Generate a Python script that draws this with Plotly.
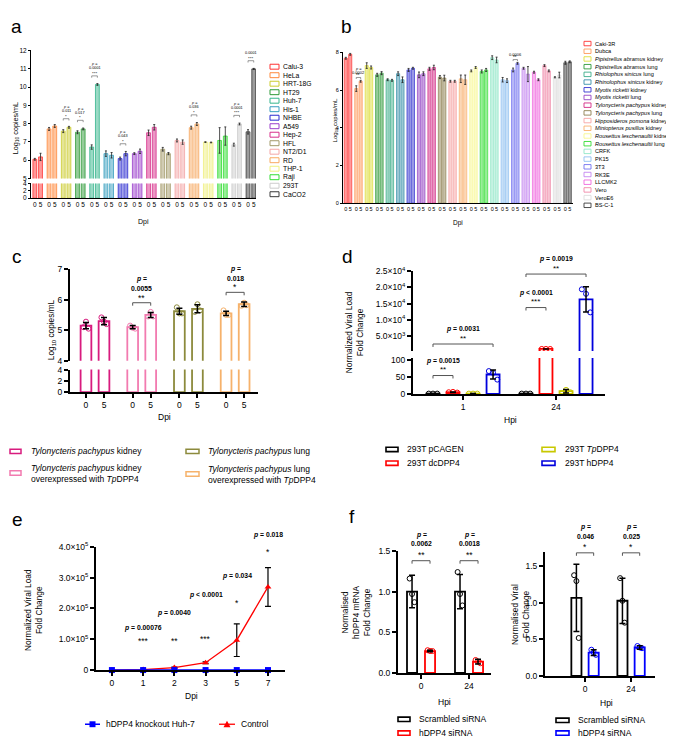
import plotly.graph_objects as go

W, H = 674, 737
FONT = "Arial, Liberation Sans, Helvetica, sans-serif"

# ---------------- Panel a data ----------------
a_cells = ["Calu-3", "HeLa", "HRT-18G", "HT29", "Huh-7", "His-1", "NHBE", "A549",
           "Hep-2", "HFL", "NT2/D1", "RD", "THP-1", "Raji", "293T", "CaCO2"]
a_colors = ["#ff3333", "#ff8a3d", "#cccc2e", "#2e9a38", "#35b58c", "#3a9fbf", "#2b2bd0", "#9b3fcc",
            "#d8308c", "#a39a6a", "#f4a6a6", "#f8aa62", "#f0f080", "#33dd33", "#cccccc", "#3a3a3a"]
a_day0 = [6.05, 7.71, 7.59, 7.53, 6.72, 6.36, 6.09, 6.36, 7.5, 6.6, 7.08, 7.78, 6.99, 7.08, 6.85, 7.55]
a_day5 = [6.18, 7.87, 7.8, 7.71, 10.14, 6.27, 6.36, 6.49, 7.8, 6.36, 6.99, 7.98, 6.97, 7.32, 7.98, 10.99]
a_err0 = [0.05, 0.08, 0.08, 0.08, 0.12, 0.15, 0.08, 0.05, 0.15, 0.1, 0.08, 0.08, 0.02, 0.7, 0.08, 0.12]
a_err5 = [0.2, 0.08, 0.05, 0.05, 0.05, 0.15, 0.12, 0.12, 0.15, 0.06, 0.12, 0.08, 0.02, 0.5, 0.05, 0.03]
a_sig_idx = [2, 3, 4, 6, 11, 14, 15]
a_sig_p = ["0.011", "0.017", "0.0001", "0.043", "0.036", "0.0001", "0.0001"]
a_sig_star = ["*", "*", "***", "*", "*", "***", "***"]
dpi_ticks = ["0", "5"]

# ---------------- Panel b data ----------------
b_cells = ["Caki-3R", "Dubca", "<i>Pipistrellus abramus</i> kidney", "<i>Pipistrellus abramus</i> lung",
           "<i>Rhiolophus sinicus</i> lung", "<i>Rhinolophus sinicus</i> kidney",
           "<i>Myotis ricketti</i> kidney", "<i>Myotis ricketti</i> lung",
           "<i>Tylonycteris pachypus</i> kidney", "<i>Tylonycteris pachypus</i> lung",
           "<i>Hipposideros pomona</i> kidney", "<i>Miniopterus pusillus</i> kidney",
           "<i>Rousettus leschenaultii</i> kidney", "<i>Rousettus leschenaultii</i> lung",
           "CRFK", "PK15", "3T3", "RK3E", "LLCMK2", "Vero", "VeroE6", "BS-C-1"]
b_colors = ["#ff3333", "#ff9a5a", "#dede3c", "#2e9a38", "#3cae8a", "#3890aa", "#3434d0", "#9444c4",
            "#d42a86", "#8e8050", "#f7a4a4", "#f8b070", "#f8f890", "#33dd33", "#8ee6c6", "#8ec0f0",
            "#7272f0", "#c486f0", "#f068de", "#f088a8", "#dddddd", "#3a3a3a"]
b_day0 = [7.69, 6.08, 7.3, 6.81, 6.55, 6.87, 7.07, 6.81, 7.13, 6.69, 6.47, 6.6, 7.02, 6.99, 7.72,
          6.55, 7.07, 7.16, 6.95, 7.3, 6.68, 7.45]
b_day5 = [7.9, 6.47, 7.2, 6.9, 6.52, 6.55, 7.16, 6.87, 7.2, 6.64, 6.47, 6.55, 7.2, 7.07, 7.6,
          6.5, 7.42, 6.85, 6.55, 7.02, 6.8, 7.5]
b_err0 = [0.05, 0.15, 0.15, 0.08, 0.05, 0.1, 0.08, 0.15, 0.08, 0.08, 0.05, 0.2, 0.05, 0.08, 0.1,
          0.12, 0.1, 0.05, 0.05, 0.05, 0.03, 0.08]
b_err5 = [0.05, 0.05, 0.08, 0.08, 0.05, 0.15, 0.05, 0.1, 0.12, 0.15, 0.05, 0.25, 0.05, 0.08, 0.15,
          0.1, 0.05, 0.4, 0.05, 0.05, 0.15, 0.05]
b_sig_idx = [0, 1, 16]
b_sig_p = ["0.0007", "0.0002", "0.0006"]
b_sig_star = ["**", "**", "**"]

# ---------------- Panel c data ----------------
c_groups = ["<i>Tylonycteris pachypus</i> kidney",
            "<i>Tylonycteris pachypus</i> kidney<br>overexpressed with <i>Tp</i>DPP4",
            "<i>Tylonycteris pachypus</i> lung",
            "<i>Tylonycteris pachypus</i> lung<br>overexpressed with <i>Tp</i>DPP4"]
c_colors = ["#d81b7e", "#f27bb0", "#8c8a3c", "#f6b26b"]
c_day0_mean = [5.15, 5.1, 5.62, 5.55]
c_day5_mean = [5.3, 5.5, 5.7, 5.85]
c_day0_sd = [0.1, 0.05, 0.1, 0.07]
c_day5_sd = [0.12, 0.08, 0.13, 0.07]
c_day0_pts = [[5.1, 5.28, 5.05], [5.15, 5.08, 5.05], [5.75, 5.55, 5.55], [5.65, 5.5, 5.5]]
c_day5_pts = [[5.42, 5.28, 5.2], [5.45, 5.6, 5.45], [5.6, 5.85, 5.65], [5.8, 5.9, 5.82]]
c_sig_idx = [1, 3]
c_sig_p = ["0.0055", "0.018"]
c_sig_star = ["**", "*"]

# ---------------- Panel d data ----------------
d_hpi = ["1", "24"]
d_series = ["293T pCAGEN", "293T dcDPP4", "293T <i>Tp</i>DPP4", "293T hDPP4"]
d_colors = ["#000000", "#ff0000", "#c8c800", "#0000dd"]
d_mean = [[1, 1], [5, 1050], [1, 8], [57, 16300]]
d_sd = [[0, 0], [1, 10], [0, 5], [13, 3900]]
d_pts = [[[1, 1, 1], [1, 1, 1]], [[5, 6, 4], [1050, 1060, 1040]], [[1, 1, 1], [3, 12, 5]],
         [[67, 62, 42], [19400, 18000, 12300]]]
d_upper_ticks = [5000, 10000, 15000, 20000, 25000]
d_upper_text = ["5.0×10<sup>3</sup>", "1.0×10<sup>4</sup>", "1.5×10<sup>4</sup>",
                "2.0×10<sup>4</sup>", "2.5×10<sup>4</sup>"]
d_lower_ticks = [0, 50, 100]

# ---------------- Panel e data ----------------
e_dpi = ["0", "1", "2", "3", "5", "7"]
e_ko = [0, 0, 0, 0, 0, 0]
e_ctrl = [0, 1500, 8000, 24000, 97000, 270000]
e_ctrl_sd = [0, 600, 1800, 3000, 53000, 63000]
e_sig_p = ["", "p = 0.00076", "p = 0.0040", "p < 0.0001", "p = 0.034", "p = 0.018"]
e_sig_star = ["", "***", "**", "***", "*", "*"]
e_ticks = [0, 100000, 200000, 300000, 400000]
e_ticktext = ["0", "1.0×10<sup>5</sup>", "2.0×10<sup>5</sup>", "3.0×10<sup>5</sup>", "4.0×10<sup>5</sup>"]

# ---------------- Panel f data ----------------
f_hpi = ["0", "24"]
f1_scr_mean = [1.0, 1.0]
f1_scr_sd = [0.2, 0.21]
f1_si_mean = [0.27, 0.14]
f1_si_sd = [0.01, 0.03]
f1_scr_pts = [[1.16, 0.97, 0.87], [1.24, 0.97, 0.83]]
f1_si_pts = [[0.28, 0.27, 0.27], [0.16, 0.14, 0.12]]
f1_sig_p = ["0.0062", "0.0018"]
f1_sig_star = ["**", "**"]
f2_scr_mean = [1.07, 1.03]
f2_scr_sd = [0.46, 0.31]
f2_si_mean = [0.32, 0.39]
f2_si_sd = [0.04, 0.025]
f2_scr_pts = [[1.38, 1.3, 0.52], [1.34, 1.03, 0.73]]
f2_si_pts = [[0.36, 0.32, 0.29], [0.41, 0.39, 0.38]]
f2_sig_p = ["0.046", "0.025"]
f2_sig_star = ["*", "*"]
f_series = ["Scrambled siRNA", "hDPP4 siRNA"]

# =====================================================================
fig = go.Figure()
layout = {}
shapes = []
annotations = []


def PX(x):
    return x / W


def PY(y):
    return 1 - y / H


def rgba(h, a):
    h = h.lstrip('#')
    return f"rgba({int(h[0:2], 16)},{int(h[2:4], 16)},{int(h[4:6], 16)},{a})"


def in_range(v, rng):
    return rng[0] <= v <= rng[1]


def base_axis(**kw):
    d = dict(showgrid=False, zeroline=False, showline=True, linecolor='black', linewidth=1,
             ticks='outside', tickcolor='black', tickwidth=1, ticklen=3,
             tickfont=dict(family=FONT, size=8.5, color='black'), fixedrange=True)
    d.update(kw)
    return d


def add_axes(n, x0, x1, ytop, ybot, xrng, yrng, xkw=None, ykw=None):
    xa = 'xaxis' if n == 1 else f'xaxis{n}'
    ya = 'yaxis' if n == 1 else f'yaxis{n}'
    xref = 'x' if n == 1 else f'x{n}'
    yref = 'y' if n == 1 else f'y{n}'
    layout[xa] = base_axis(domain=[PX(x0), PX(x1)], range=xrng, anchor=yref, **(xkw or {}))
    layout[ya] = base_axis(domain=[PY(ybot), PY(ytop)], range=yrng, anchor=xref, **(ykw or {}))
    return xref, yref


def txt(x, y, s, size=8.5, xanchor='center', yanchor='middle', angle=0, xref='paper', yref='paper',
        align='center'):
    annotations.append(dict(x=PX(x) if xref == 'paper' else x, y=PY(y) if yref == 'paper' else y,
                            xref=xref, yref=yref, text=s, showarrow=False, textangle=angle,
                            font=dict(size=size, family=FONT, color='black'),
                            xanchor=xanchor, yanchor=yanchor, align=align, borderpad=0))


def bracket(xref, x0, x1, y0, y1, yref='paper', color='#555', width=0.8):
    if yref == 'paper':
        y0, y1 = PY(y0), PY(y1)
    shapes.append(dict(type='path', xref=xref, yref=yref,
                       path=f"M {x0},{y1} L {x0},{y0} L {x1},{y0} L {x1},{y1}",
                       line=dict(color=color, width=width)))


def legend_box(x0, x1, y, color, h=4.5, lw=1.3):
    shapes.append(dict(type='rect', xref='paper', yref='paper', x0=PX(x0), x1=PX(x1),
                       y0=PY(y + h / 2), y1=PY(y - h / 2), fillcolor='white',
                       line=dict(color=color, width=lw)))


# ======================= Panel a =======================
A_OFF, A_W = 0.2, 0.27
a_rng = [-0.47, 15.36]
a_tick_pos = []
a_tick_txt = []
for i in range(len(a_cells)):
    a_tick_pos += [i - A_OFF, i + A_OFF]
    a_tick_txt += dpi_ticks
ax1, ay1 = add_axes(1, 23, 248, 37, 167, a_rng, [5, 12], xkw=dict(visible=False),
                    ykw=dict(tickvals=list(range(5, 13)), ticklen=2,
                             tickfont=dict(family=FONT, size=6.5, color='black')))
ax2, ay2 = add_axes(2, 23, 248, 172, 187, a_rng, [0, 4],
                    xkw=dict(tickvals=a_tick_pos, ticktext=a_tick_txt, ticks='', tickangle=0,
                             tickfont=dict(family=FONT, size=6.5, color='black')),
                    ykw=dict(tickvals=[0, 2, 4], ticklen=2,
                             tickfont=dict(family=FONT, size=6.5, color='black')))
for seg, (xr_, yr_) in enumerate([(ax1, ay1), (ax2, ay2)]):
    for i, cell in enumerate(a_cells):
        fig.add_trace(go.Bar(
            x=[i - A_OFF, i + A_OFF], y=[a_day0[i], a_day5[i]], width=A_W, name=cell,
            marker=dict(color=rgba(a_colors[i], 0.5), line=dict(color=a_colors[i], width=0.8)),
            error_y=dict(type='data', array=[a_err0[i], a_err5[i]], color='#222', thickness=0.8,
                         width=1, visible=(seg == 0)),
            xaxis=xr_, yaxis=yr_, showlegend=False))
for k, i in enumerate(a_sig_idx):
    top = max(a_day0[i] + a_err0[i], a_day5[i] + a_err5[i])
    bracket(ax1, i - A_OFF, i + A_OFF, top + 0.42, top + 0.32, yref=ay1, width=0.6)
    txt(i, top + 0.56, a_sig_star[k], size=4.4, xref=ax1, yref=ay1)
    txt(i, top + 0.84, a_sig_p[k], size=3.8, xref=ax1, yref=ay1)
    txt(i, top + 1.05, "<i>p</i> =", size=3.8, xref=ax1, yref=ay1)
txt(8, 116, "Log<sub>10</sub> copies/mL", size=7.2, angle=-90)
txt(135, 211, "Dpi", size=7)
for i, cell in enumerate(a_cells):
    y = 53.5 + i * 8.63
    legend_box(262, 271, y, a_colors[i], h=5, lw=1)
    txt(274, y, cell, size=6.8, xanchor='left')

# ======================= Panel b =======================
B_OFF, B_W = 0.21, 0.3
b_rng = [-0.48, 21.52]
b_tick_pos = []
b_tick_txt = []
for i in range(len(b_cells)):
    b_tick_pos += [i - B_OFF, i + B_OFF]
    b_tick_txt += dpi_ticks
ax3, ay3 = add_axes(3, 335, 565, 39, 192, b_rng, [0, 8],
                    xkw=dict(tickvals=b_tick_pos, ticktext=b_tick_txt, ticks='', tickangle=0,
                             tickfont=dict(family=FONT, size=5.5, color='black')),
                    ykw=dict(tickvals=[0, 2, 4, 6, 8], ticklen=2,
                             tickfont=dict(family=FONT, size=5.5, color='black')))
for i, cell in enumerate(b_cells):
    fig.add_trace(go.Bar(
        x=[i - B_OFF, i + B_OFF], y=[b_day0[i], b_day5[i]], width=B_W, name=cell,
        marker=dict(color=rgba(b_colors[i], 0.5), line=dict(color=b_colors[i], width=0.7)),
        error_y=dict(type='data', array=[b_err0[i], b_err5[i]], color='#222', thickness=0.8, width=1),
        xaxis=ax3, yaxis=ay3, showlegend=False))
for k, i in enumerate(b_sig_idx):
    top = max(b_day0[i], b_day5[i])
    bracket(ax3, i - B_OFF, i + B_OFF, top + 0.2, top + 0.12, yref=ay3, width=0.6)
    txt(i, top + 0.3, b_sig_star[k], size=4.5, xref=ax3, yref=ay3)
    txt(i, top + 0.48, b_sig_p[k], size=4, xref=ax3, yref=ay3)
    txt(i, top + 0.66, "<i>p</i> =", size=4, xref=ax3, yref=ay3)
txt(327, 108, "Log<sub>10</sub> copies/mL", size=6, angle=-90)
txt(450, 212, "Dpi", size=6.5)
for i, cell in enumerate(b_cells):
    y = 30 + i * 7.82
    legend_box(576, 583, y, b_colors[i], h=4.5, lw=0.9)
    txt(586, y, cell, size=5.6, xanchor='left')

# ======================= Panel c =======================
C_OFF, C_W = 0.193, 0.23
c_rng = [-0.535, 3.49]
c_tick_pos = []
c_tick_txt = []
for i in range(len(c_groups)):
    c_tick_pos += [i - C_OFF, i + C_OFF]
    c_tick_txt += dpi_ticks
ax4, ay4 = add_axes(4, 62, 250, 259, 352, c_rng, [4, 7], xkw=dict(visible=False),
                    ykw=dict(tickvals=[4, 5, 6, 7], linewidth=2, tickwidth=1.5, ticklen=4))
ax5, ay5 = add_axes(5, 62, 250, 361, 384, c_rng, [0, 4],
                    xkw=dict(tickvals=c_tick_pos, ticktext=c_tick_txt, tickangle=0, linewidth=2,
                             tickwidth=1.5, ticklen=4),
                    ykw=dict(tickvals=[0, 2, 4], linewidth=2, tickwidth=1.5, ticklen=4))
jit = [-0.055, 0.0, 0.055]
for seg, (xr_, yr_) in enumerate([(ax4, ay4), (ax5, ay5)]):
    for i, g in enumerate(c_groups):
        fig.add_trace(go.Bar(
            x=[i - C_OFF, i + C_OFF], y=[c_day0_mean[i], c_day5_mean[i]], width=C_W,
            marker=dict(color='white', line=dict(color=c_colors[i], width=1.8)),
            xaxis=xr_, yaxis=yr_, showlegend=False))
for i, g in enumerate(c_groups):
    px_, py_ = [], []
    for j in range(3):
        px_ += [i - C_OFF + jit[j], i + C_OFF + jit[j]]
        py_ += [c_day0_pts[i][j], c_day5_pts[i][j]]
    fig.add_trace(go.Scatter(x=px_, y=py_, mode='markers',
                             marker=dict(symbol='circle-open', size=5, color=c_colors[i], line=dict(width=1)),
                             xaxis=ax4, yaxis=ay4, showlegend=False))
    fig.add_trace(go.Scatter(x=[i - C_OFF, i + C_OFF], y=[c_day0_mean[i], c_day5_mean[i]], mode='markers',
                             marker=dict(size=1, color='black'),
                             error_y=dict(type='data', array=[c_day0_sd[i], c_day5_sd[i]], color='black',
                                          thickness=1.5, width=3),
                             xaxis=ax4, yaxis=ay4, showlegend=False))
for k, i in enumerate(c_sig_idx):
    top = max(c_day0_mean[i] + c_day0_sd[i], c_day5_mean[i] + c_day5_sd[i])
    y_br = 259 + (7 - (top + 0.32)) * 31
    bracket(ax4, i - C_OFF, i + C_OFF, y_br, y_br + 3, width=1)
    txt(i, y_br - 5, c_sig_star[k], size=8.5, xref=ax4, yanchor='middle')
    txt(i, y_br - 14, f"<b>{c_sig_p[k]}</b>", size=6.8, xref=ax4)
    txt(i, y_br - 24, "<b><i>p</i> =</b>", size=6.8, xref=ax4)
txt(43, 321, "Log<sub>10</sub> copies/mL", size=8.3, angle=-90)
txt(156, 409, "Dpi", size=8.5)
c_leg = [(2, 13, 22, 444), (2, 13, 22, 466), (178, 191, 199, 444), (178, 191, 199, 467)]
for i, g in enumerate(c_groups):
    x0, x1, xt, y = c_leg[i]
    legend_box(x0, x1, y, c_colors[i], h=4.5, lw=1.5)
    txt(xt, y, g, size=8.5, xanchor='left', align='left')

# ======================= Panel d =======================
D_OFF = [-0.323, -0.108, 0.108, 0.323]
D_W = 0.14
d_rng = [-0.538, 1.527]
d_up_rng = [450, 25000]
d_lo_rng = [0, 105]
ax6, ay6 = add_axes(6, 405, 597, 261, 342, d_rng, d_up_rng, xkw=dict(visible=False),
                    ykw=dict(tickvals=d_upper_ticks, ticktext=d_upper_text, linewidth=2, tickwidth=1.5,
                             ticklen=4))
ax7, ay7 = add_axes(7, 405, 597, 349.3, 385.7, d_rng, d_lo_rng,
                    xkw=dict(tickvals=[0, 1], ticktext=d_hpi, tickangle=0, linewidth=2, tickwidth=1.5,
                             ticklen=4),
                    ykw=dict(tickvals=d_lower_ticks, linewidth=2, tickwidth=1.5, ticklen=4))
djit = [-0.045, 0.0, 0.045]
for seg, (xr_, yr_, rng) in enumerate([(ax6, ay6, d_up_rng), (ax7, ay7, d_lo_rng)]):
    for s, name in enumerate(d_series):
        xs = [h + D_OFF[s] for h in range(len(d_hpi))]
        bar_y = [v if (seg == 1 or v > rng[0]) else None for v in d_mean[s]]
        fig.add_trace(go.Bar(x=xs, y=bar_y, width=D_W,
                             marker=dict(color='white', line=dict(color=d_colors[s], width=1.8)),
                             xaxis=xr_, yaxis=yr_, showlegend=False))
        ptx, pty = [], []
        for h in range(len(d_hpi)):
            for j in range(3):
                v = d_pts[s][h][j]
                if in_range(v, rng):
                    ptx.append(h + D_OFF[s] + djit[j])
                    pty.append(v)
        fig.add_trace(go.Scatter(x=ptx, y=pty, mode='markers',
                                 marker=dict(symbol='circle-open', size=5, color=d_colors[s],
                                             line=dict(width=1)),
                                 xaxis=xr_, yaxis=yr_, showlegend=False))
        mean_y = [v if in_range(v, rng) else None for v in d_mean[s]]
        fig.add_trace(go.Scatter(x=xs, y=mean_y, mode='markers', marker=dict(size=1, color='black'),
                                 error_y=dict(type='data', array=d_sd[s], color='black', thickness=1.5,
                                              width=3),
                                 xaxis=xr_, yaxis=yr_, showlegend=False))
d_sig = [(0, 1, 367, "<b><i>p</i> = 0.0015</b>", "**"),
         (0, 3, 335, "<b><i>p</i> = 0.0031</b>", "**"),
         (1, 1, 298, "<b><i>p</i> < 0.0001</b>", "***"),
         (1, 3, 264, "<b><i>p</i> = 0.0019</b>", "**")]
for h, s, ypx, ptxt, star in d_sig:
    xa_ = h + D_OFF[0]
    xb_ = h + D_OFF[s]
    bracket(ax7, xa_, xb_, ypx, ypx + 3, width=1)
    txt((xa_ + xb_) / 2, ypx - 6, star, size=8, xref=ax7)
    txt((xa_ + xb_) / 2, ypx - 15, ptxt, size=6.8, xref=ax7)
txt(346, 323, "Normalized Viral Load<br>Fold Change", size=8.3, angle=-90)
txt(502, 412, "Hpi", size=8.5)
d_leg = [(378, 390, 398, 442), (378, 390, 398, 456), (534, 547, 556, 442), (534, 547, 556, 456)]
for s, name in enumerate(d_series):
    x0, x1, xt, y = d_leg[s]
    legend_box(x0, x1, y, d_colors[s], h=4.5, lw=1.6)
    txt(xt, y, name, size=8.5, xanchor='left')

# ======================= Panel e =======================
ax8, ay8 = add_axes(8, 88, 277, 541, 666, [-0.51, 5.545], [0, 400000],
                    xkw=dict(type='category', categoryorder='array', categoryarray=e_dpi, tickangle=0,
                             linewidth=2, tickwidth=1.5, ticklen=4),
                    ykw=dict(tickvals=e_ticks, ticktext=e_ticktext, linewidth=2, tickwidth=1.5, ticklen=4))
fig.add_trace(go.Scatter(x=e_dpi, y=e_ctrl, mode='lines+markers', name='Control',
                         line=dict(color='#ff0000', width=1.3),
                         marker=dict(symbol='triangle-up', size=6, color='#ff0000'),
                         error_y=dict(type='data', array=e_ctrl_sd, color='black', thickness=1.2, width=3),
                         xaxis=ax8, yaxis=ay8, showlegend=False, cliponaxis=False))
fig.add_trace(go.Scatter(x=e_dpi, y=e_ko, mode='lines+markers', name='hDPP4 knockout Huh-7',
                         line=dict(color='#0000ff', width=1.5),
                         marker=dict(symbol='square', size=6, color='#0000ff'),
                         xaxis=ax8, yaxis=ay8, showlegend=False, cliponaxis=False))
e_p_y = [0, 623, 608, 590, 571, 529]
e_s_y = [0, 636, 636, 634, 598, 546]
for i in range(1, len(e_dpi)):
    txt(i, e_p_y[i], f"<b>{e_sig_p[i].replace('p', '<i>p</i>', 1)}</b>", size=6.8, xref=ax8)
    txt(i, e_s_y[i], e_sig_star[i], size=8.5, xref=ax8)
txt(26, 605, "Normalized Viral Load<br>Fold Change", size=8.3, angle=-90)
txt(183, 692, "Dpi", size=8.5)
shapes.append(dict(type='line', xref='paper', yref='paper', x0=PX(77), x1=PX(92), y0=PY(721), y1=PY(721),
                   line=dict(color='#0000ff', width=1.5)))
shapes.append(dict(type='rect', xref='paper', yref='paper', x0=PX(81.5), x1=PX(87.5), y0=PY(724), y1=PY(718),
                   fillcolor='#0000ff', line=dict(color='#0000ff', width=0)))
txt(97, 721, "hDPP4 knockout Huh-7", size=8.5, xanchor='left')
shapes.append(dict(type='line', xref='paper', yref='paper', x0=PX(211), x1=PX(227), y0=PY(721), y1=PY(721),
                   line=dict(color='#ff0000', width=1.3)))
shapes.append(dict(type='path', xref='paper', yref='paper',
                   path=f"M {PX(215.5)},{PY(724)} L {PX(222.5)},{PY(724)} L {PX(219)},{PY(717.5)} Z",
                   fillcolor='#ff0000', line=dict(color='#ff0000', width=0)))
txt(232, 721, "Control", size=8.5, xanchor='left')

# ======================= Panel f =======================
F_OFF = 0.1875
fjit = [-0.05, 0.0, 0.05]


def f_panel(n, x0, x1, ytop, ybot, xrng, yrng, scr_m, scr_sd, scr_pts, si_m, si_sd, si_pts, si_color,
            sig_p, sig_star, sig_y, width=0.21):
    xr_, yr_ = add_axes(n, x0, x1, ytop, ybot, xrng, yrng,
                        xkw=dict(tickvals=[0, 1], ticktext=f_hpi, tickangle=0, linewidth=2, tickwidth=1.5,
                                 ticklen=4),
                        ykw=dict(tickvals=[0, 0.5, 1.0, 1.5], ticktext=["0.0", "0.5", "1.0", "1.5"],
                                 linewidth=2, tickwidth=1.5, ticklen=4))
    for means, sds, pts, col, off in [(scr_m, scr_sd, scr_pts, 'black', -F_OFF),
                                     (si_m, si_sd, si_pts, si_color, F_OFF)]:
        xs = [h + off for h in range(len(f_hpi))]
        fig.add_trace(go.Bar(x=xs, y=means, width=width,
                             marker=dict(color='white', line=dict(color=col, width=1.8)),
                             xaxis=xr_, yaxis=yr_, showlegend=False))
        ptx, pty = [], []
        for h in range(len(f_hpi)):
            for j in range(3):
                ptx.append(h + off + fjit[j])
                pty.append(pts[h][j])
        fig.add_trace(go.Scatter(x=ptx, y=pty, mode='markers',
                                 marker=dict(symbol='circle-open', size=5, color=col, line=dict(width=1)),
                                 xaxis=xr_, yaxis=yr_, showlegend=False))
        fig.add_trace(go.Scatter(x=xs, y=means, mode='markers', marker=dict(size=1, color='black'),
                                 error_y=dict(type='data', array=sds, color='black', thickness=1.5, width=3),
                                 xaxis=xr_, yaxis=yr_, showlegend=False))
    for h in range(len(f_hpi)):
        bracket(xr_, h - F_OFF, h + F_OFF, sig_y, sig_y + 3, width=1)
        txt(h, sig_y - 6, sig_star[h], size=8.5, xref=xr_)
        txt(h, sig_y - 17, f"<b>{sig_p[h]}</b>", size=6.8, xref=xr_)
        txt(h, sig_y - 26, "<b><i>p</i> =</b>", size=6.8, xref=xr_)
    return xr_, yr_


f_panel(9, 390, 483, 545, 669, [-0.48, 1.458], [0, 1.5], f1_scr_mean, f1_scr_sd, f1_scr_pts,
        f1_si_mean, f1_si_sd, f1_si_pts, '#ff0000', f1_sig_p, f1_sig_star, 555)
f_panel(10, 537, 647, 546, 672, [-0.87, 1.52], [0, 1.7], f2_scr_mean, f2_scr_sd, f2_scr_pts,
        f2_si_mean, f2_si_sd, f2_si_pts, '#0000ff', f2_sig_p, f2_sig_star, 547, width=0.22)
txt(348, 607, "Normalised<br>hDPP4 mRNA<br>Fold Change", size=8.3, angle=-90)
txt(513, 610, "Normalised Viral<br>Fold Change", size=8.3, angle=-90)
txt(436, 698, "Hpi", size=8.5)
txt(598, 699, "Hpi", size=8.5)
for k, (nm, col) in enumerate(zip(f_series, ['black', '#ff0000'])):
    y = 716 + k * 14
    legend_box(390, 402, y, col, h=4.5, lw=1.6)
    txt(410, y, nm, size=8.5, xanchor='left')
for k, (nm, col) in enumerate(zip(f_series, ['black', '#0000ff'])):
    y = 717 + k * 13
    legend_box(548, 561, y, col, h=4.5, lw=1.6)
    txt(569, y, nm, size=8.5, xanchor='left')

# ======================= panel letters =======================
for lab, x, y in [("a", 8, 13), ("b", 338, 13), ("c", 9, 246), ("d", 339, 246), ("e", 9, 513), ("f", 344, 510)]:
    txt(x, y, lab, size=19)

layout.update(dict(width=W, height=H, autosize=False, margin=dict(l=0, r=0, t=0, b=0),
                   paper_bgcolor='white', plot_bgcolor='rgba(0,0,0,0)', barmode='overlay',
                   showlegend=False, font=dict(family=FONT, color='black'),
                   shapes=shapes, annotations=annotations))
fig.update_layout(**layout)
fig.write_html("out.html")
